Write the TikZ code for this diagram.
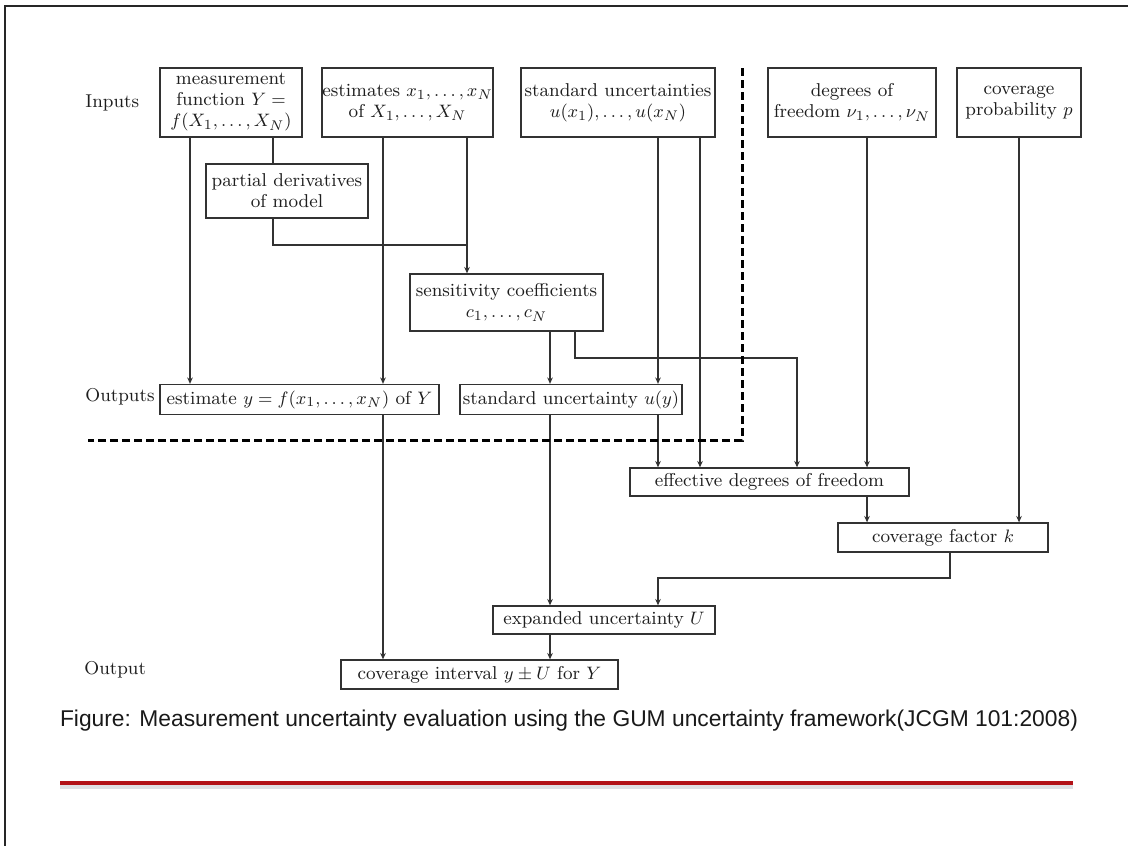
\documentclass[tikz,border=0pt]{standalone}
\usepackage{fontspec}
\usepackage{graphicx}
\usetikzlibrary{arrows.meta}
\newfontfamily\capfont{Liberation Sans}
\definecolor{inkgray}{RGB}{30,30,30}
\definecolor{linegray}{RGB}{50,50,50}
\definecolor{rulered}{RGB}{178,18,24}
\definecolor{shadowgray}{RGB}{222,224,228}

\tikzset{
  box/.style={draw=linegray, line width=0.65pt, align=center, inner sep=0pt,
    text=inkgray, font=\fontsize{9.3}{10.5}\selectfont},
  lbl/.style={anchor=west, inner sep=0pt, text=inkgray,
    font=\fontsize{9.3}{10.5}\selectfont},
  link/.style={draw=linegray, line width=0.55pt},
  flow/.style={link, -{Stealth[length=3.2pt,width=2.8pt]}},
  boundary/.style={draw=black, line width=1.5pt, dash pattern=on 4pt off 2pt}
}

\begin{document}
\begin{tikzpicture}[x=0.5pt,y=-0.5pt]
\useasboundingbox (0,0) rectangle (1128,846);

% frame edges
\draw[line width=1pt, black!85] (1128,6) -- (4.5,6) -- (4.5,846);

% row labels
\node[lbl] (inputs)  at (85,103) {Inputs};
\node[lbl] (outputs) at (85,397) {Outputs};
\node[lbl] (output)  at (84,670) {Output};

% input boxes
\node[box, minimum width=71pt, minimum height=34.5pt] (meas) at (231,102.5)
  {measurement\\ function $Y=$\\ $f(X_1,\dots,X_N)$};
\node[box, minimum width=85.5pt, minimum height=34.5pt] (est) at (407.5,102.5)
  {estimates $x_1,\dots,x_N$\\ of $X_1,\dots,X_N$};
\node[box, minimum width=97pt, minimum height=34.5pt] (stdu) at (618,102.5)
  {standard uncertainties\\ $u(x_1),\dots,u(x_N)$};
\node[box, minimum width=84pt, minimum height=34.5pt] (dof) at (852,102.5)
  {degrees of\\ freedom $\nu_1,\dots,\nu_N$};
\node[box, minimum width=62pt, minimum height=34.5pt] (covp) at (1019,102.5)
  {coverage\\ probability $p$};

% intermediate boxes
\node[box, minimum width=81pt, minimum height=27pt] (pd) at (287,191)
  {partial derivatives\\ of model};
\node[box, minimum width=96.5pt, minimum height=28.5pt] (sens) at (506.5,302.5)
  {sensitivity coefficients\\ $c_1,\dots,c_N$};

% output boxes
\node[box, minimum width=139.5pt, minimum height=15pt] (esty) at (299.5,399.5)
  {estimate $y=f(x_1,\dots,x_N)$ of $Y$};
\node[box, minimum width=111pt, minimum height=15pt] (uy) at (571,399.5)
  {standard uncertainty $u(y)$};

% coverage chain
\node[box, minimum width=139.5pt, minimum height=14pt] (eff) at (769.5,482)
  {effective degrees of freedom};
\node[box, minimum width=105pt, minimum height=14.5pt] (cf) at (943,537.5)
  {coverage factor $k$};
\node[box, minimum width=111pt, minimum height=14pt] (U) at (604,620)
  {expanded uncertainty $U$};
\node[box, minimum width=138.5pt, minimum height=14.5pt] (ci) at (479.5,674.5)
  {coverage interval $y\pm U$ for $Y$};

% connector columns and bend rows
\coordinate (cA) at (190,0);
\coordinate (cB) at (273,0);
\coordinate (cC) at (383,0);
\coordinate (cD) at (467,0);
\coordinate (cE) at (550,0);
\coordinate (cF) at (575,0);
\coordinate (cG) at (658,0);
\coordinate (cH) at (700,0);
\coordinate (cI) at (797,0);
\coordinate (cJ) at (867,0);
\coordinate (cK) at (950,0);
\coordinate (cL) at (1019,0);
\coordinate (r245) at (0,245);
\coordinate (r358) at (0,358);
\coordinate (r578) at (0,578);

% connectors
\draw[flow] (cA |- meas.south) -- (cA |- esty.north);
\draw[link] (cB |- meas.south) -- (cB |- pd.north);
\draw[link] (cB |- pd.south) -- (cB |- r245) -- (cD |- r245);
\draw[flow] (cC |- est.south) -- (cC |- esty.north);
\draw[flow] (cD |- est.south) -- (cD |- sens.north);
\draw[flow] (cE |- sens.south) -- (cE |- uy.north);
\draw[flow] (cF |- sens.south) -- (cF |- r358) -- (cI |- r358) -- (cI |- eff.north);
\draw[flow] (cG |- stdu.south) -- (cG |- uy.north);
\draw[flow] (cH |- stdu.south) -- (cH |- eff.north);
\draw[flow] (cG |- uy.south) -- (cG |- eff.north);
\draw[flow] (cE |- uy.south) -- (cE |- U.north);
\draw[flow] (cC |- esty.south) -- (cC |- ci.north);
\draw[flow] (cJ |- dof.south) -- (cJ |- eff.north);
\draw[flow] (cL |- covp.south) -- (cL |- cf.north);
\draw[flow] (cJ |- eff.south) -- (cJ |- cf.north);
\draw[flow] (cK |- cf.south) -- (cK |- r578) -- (cG |- r578) -- (cG |- U.north);
\draw[flow] (cE |- U.south) -- (cE |- ci.north);

% inputs / outputs boundary
\coordinate (bTop) at (742,68);
\coordinate (bCorner) at (742,440);
\coordinate (bEnd) at (88,440);
\draw[boundary] (bTop) -- (bCorner) -- (bEnd);

% caption and rule
\node[inner sep=0pt, text=black!90] (caption) at (569,721)
  {\resizebox{509pt}{!}{\capfont Figure: Measurement uncertainty evaluation using the GUM uncertainty framework(JCGM 101:2008)}};
\coordinate (ruleL) at (60,783);
\coordinate (ruleR) at (1073,783);
\draw[line width=2pt, shadowgray] ([yshift=-2pt]ruleL) -- ([yshift=-2pt]ruleR);
\draw[line width=2.2pt, rulered] (ruleL) -- (ruleR);
\end{tikzpicture}
\end{document}
